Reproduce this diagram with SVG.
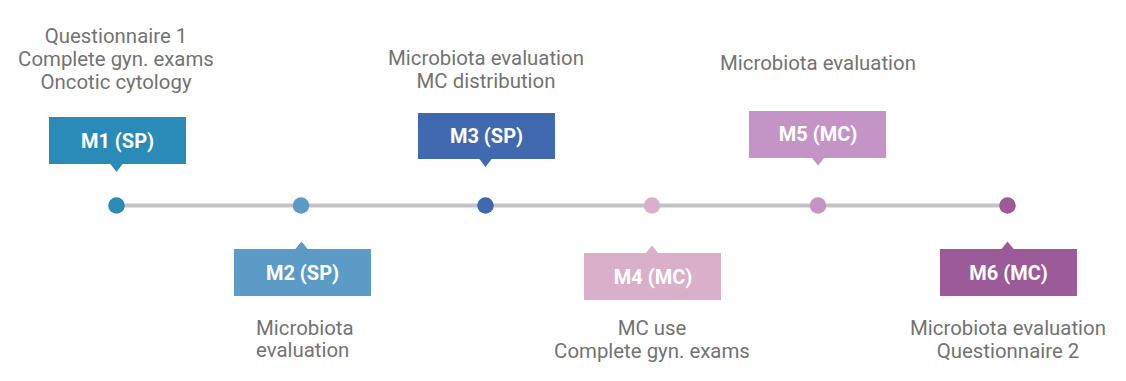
<svg xmlns="http://www.w3.org/2000/svg" width="1126" height="381" viewBox="0 0 1126 381">
<style>
.lbl{font-family:Roboto,"Liberation Sans",sans-serif;font-size:20.4px;fill:#737373;text-anchor:middle}
.bt{font-family:Roboto,"Liberation Sans",sans-serif;font-size:20px;font-weight:bold;fill:#ffffff;text-anchor:middle}
</style>
<rect width="1126" height="381" fill="#ffffff"/>
<g id="connectors">
<line x1="116" y1="205.5" x2="1008" y2="205.5" stroke="#c3c3c3" stroke-width="4"/>
</g>
<g id="m1">
<circle cx="116.5" cy="205.5" r="8.3" fill="#2a8ab8"/>
<rect x="49" y="117" width="137" height="47" fill="#2a8ab8"/>
<polygon points="110,163.5 123,163.5 116.5,172" fill="#2a8ab8"/>
<text class="bt" x="117.5" y="148">M1 (SP)</text>
<text class="lbl" x="116" y="43">Questionnaire 1</text>
<text class="lbl" x="116" y="66">Complete gyn. exams</text>
<text class="lbl" x="116" y="89">Oncotic cytology</text>
</g>
<g id="m2">
<circle cx="301" cy="205.5" r="8.3" fill="#5b9bc6"/>
<rect x="234" y="249" width="137" height="47" fill="#5b9bc6"/>
<polygon points="295,249.5 308,249.5 301.5,241.5" fill="#5b9bc6"/>
<text class="bt" x="302.5" y="280">M2 (SP)</text>
<text class="lbl" x="256" y="335" style="text-anchor:start">Microbiota</text>
<text class="lbl" x="256" y="357" style="text-anchor:start">evaluation</text>
</g>
<g id="m3">
<circle cx="485.5" cy="205.5" r="8.3" fill="#4169b0"/>
<rect x="418" y="113" width="137" height="46" fill="#4169b0"/>
<polygon points="479,158.5 492,158.5 485.5,167" fill="#4169b0"/>
<text class="bt" x="486.5" y="143">M3 (SP)</text>
<text class="lbl" x="486" y="65">Microbiota evaluation</text>
<text class="lbl" x="486" y="88">MC distribution</text>
</g>
<g id="m4">
<circle cx="652" cy="205.5" r="8.3" fill="#d9afca"/>
<rect x="584" y="253" width="137" height="47" fill="#d9afca"/>
<polygon points="645.5,253.5 658.5,253.5 652,245.5" fill="#d9afca"/>
<text class="bt" x="653" y="284">M4 (MC)</text>
<text class="lbl" x="652" y="335">MC use</text>
<text class="lbl" x="652" y="358">Complete gyn. exams</text>
</g>
<g id="m5">
<circle cx="818" cy="205.5" r="8.3" fill="#c394c5"/>
<rect x="749" y="111" width="137" height="47" fill="#c394c5"/>
<polygon points="811.5,157.5 824.5,157.5 818,165.5" fill="#c394c5"/>
<text class="bt" x="818" y="141">M5 (MC)</text>
<text class="lbl" x="818" y="70">Microbiota evaluation</text>
</g>
<g id="m6">
<circle cx="1007.5" cy="205.5" r="8.3" fill="#9b5a98"/>
<rect x="940" y="249" width="137" height="47" fill="#9b5a98"/>
<polygon points="1001,249.5 1014,249.5 1007.5,241.5" fill="#9b5a98"/>
<text class="bt" x="1008.5" y="280">M6 (MC)</text>
<text class="lbl" x="1008" y="335">Microbiota evaluation</text>
<text class="lbl" x="1008" y="358">Questionnaire 2</text>
</g>
</svg>
